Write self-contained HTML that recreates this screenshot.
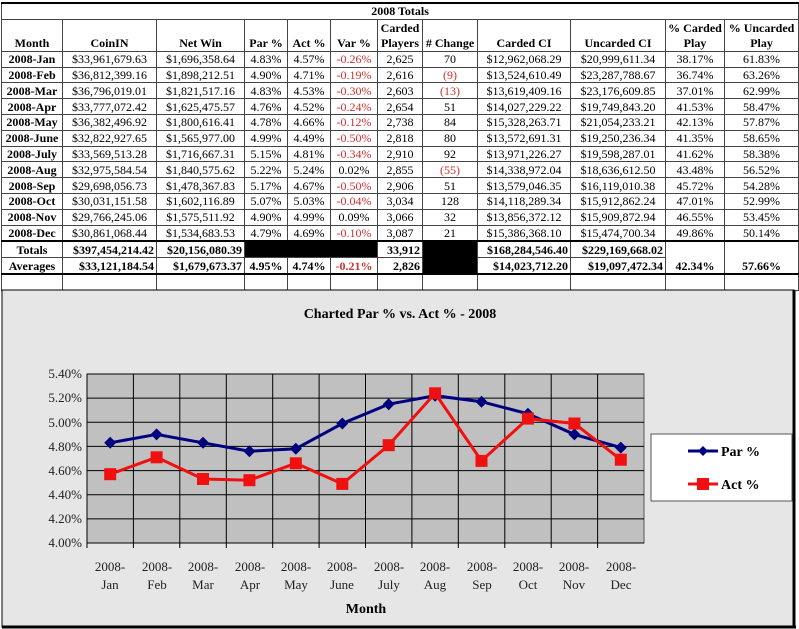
<!DOCTYPE html>
<html><head><meta charset="utf-8"><style>
body{margin:0;width:799px;height:629px;overflow:hidden;background:#fff;font-family:"Liberation Serif",serif;position:relative}
table{position:absolute;left:1px;top:2px;border-collapse:collapse;table-layout:fixed;width:797px;font-size:12px}
td{border:1px solid #444;padding:0 2px;text-align:center;white-space:nowrap;overflow:hidden;height:14.8px;line-height:14px}
.b{font-weight:bold}.r{color:#d03030}.rt{text-align:right}
.blk{background:#000}
.th td{font-weight:bold;vertical-align:bottom;height:31px;line-height:15px}
.tt td{border-top:2px solid #000}
</style></head><body>
<table>
<colgroup><col style="width:61px"><col style="width:94px"><col style="width:88px"><col style="width:43px"><col style="width:43px"><col style="width:47px"><col style="width:45px"><col style="width:55px"><col style="width:93px"><col style="width:95px"><col style="width:59px"><col style="width:74px"></colgroup>
<tr><td colspan="12" class="b" style="border-top:2px solid #000">2008 Totals</td></tr>
<tr class="th"><td>Month</td><td>CoinIN</td><td>Net Win</td><td>Par %</td><td>Act %</td><td>Var %</td><td>Carded<br>Players</td><td># Change</td><td>Carded CI</td><td>Uncarded CI</td><td>% Carded<br>Play</td><td>% Uncarded<br>Play</td></tr>
<tr><td class="b">2008-Jan</td><td>$33,961,679.63</td><td>$1,696,358.64</td><td>4.83%</td><td>4.57%</td><td class="r">-0.26%</td><td>2,625</td><td>70</td><td>$12,962,068.29</td><td>$20,999,611.34</td><td>38.17%</td><td>61.83%</td></tr>
<tr><td class="b">2008-Feb</td><td>$36,812,399.16</td><td>$1,898,212.51</td><td>4.90%</td><td>4.71%</td><td class="r">-0.19%</td><td>2,616</td><td class="r">(9)</td><td>$13,524,610.49</td><td>$23,287,788.67</td><td>36.74%</td><td>63.26%</td></tr>
<tr><td class="b">2008-Mar</td><td>$36,796,019.01</td><td>$1,821,517.16</td><td>4.83%</td><td>4.53%</td><td class="r">-0.30%</td><td>2,603</td><td class="r">(13)</td><td>$13,619,409.16</td><td>$23,176,609.85</td><td>37.01%</td><td>62.99%</td></tr>
<tr><td class="b">2008-Apr</td><td>$33,777,072.42</td><td>$1,625,475.57</td><td>4.76%</td><td>4.52%</td><td class="r">-0.24%</td><td>2,654</td><td>51</td><td>$14,027,229.22</td><td>$19,749,843.20</td><td>41.53%</td><td>58.47%</td></tr>
<tr><td class="b">2008-May</td><td>$36,382,496.92</td><td>$1,800,616.41</td><td>4.78%</td><td>4.66%</td><td class="r">-0.12%</td><td>2,738</td><td>84</td><td>$15,328,263.71</td><td>$21,054,233.21</td><td>42.13%</td><td>57.87%</td></tr>
<tr><td class="b">2008-June</td><td>$32,822,927.65</td><td>$1,565,977.00</td><td>4.99%</td><td>4.49%</td><td class="r">-0.50%</td><td>2,818</td><td>80</td><td>$13,572,691.31</td><td>$19,250,236.34</td><td>41.35%</td><td>58.65%</td></tr>
<tr><td class="b">2008-July</td><td>$33,569,513.28</td><td>$1,716,667.31</td><td>5.15%</td><td>4.81%</td><td class="r">-0.34%</td><td>2,910</td><td>92</td><td>$13,971,226.27</td><td>$19,598,287.01</td><td>41.62%</td><td>58.38%</td></tr>
<tr><td class="b">2008-Aug</td><td>$32,975,584.54</td><td>$1,840,575.62</td><td>5.22%</td><td>5.24%</td><td>0.02%</td><td>2,855</td><td class="r">(55)</td><td>$14,338,972.04</td><td>$18,636,612.50</td><td>43.48%</td><td>56.52%</td></tr>
<tr><td class="b">2008-Sep</td><td>$29,698,056.73</td><td>$1,478,367.83</td><td>5.17%</td><td>4.67%</td><td class="r">-0.50%</td><td>2,906</td><td>51</td><td>$13,579,046.35</td><td>$16,119,010.38</td><td>45.72%</td><td>54.28%</td></tr>
<tr><td class="b">2008-Oct</td><td>$30,031,151.58</td><td>$1,602,116.89</td><td>5.07%</td><td>5.03%</td><td class="r">-0.04%</td><td>3,034</td><td>128</td><td>$14,118,289.34</td><td>$15,912,862.24</td><td>47.01%</td><td>52.99%</td></tr>
<tr><td class="b">2008-Nov</td><td>$29,766,245.06</td><td>$1,575,511.92</td><td>4.90%</td><td>4.99%</td><td>0.09%</td><td>3,066</td><td>32</td><td>$13,856,372.12</td><td>$15,909,872.94</td><td>46.55%</td><td>53.45%</td></tr>
<tr><td class="b">2008-Dec</td><td>$30,861,068.44</td><td>$1,534,683.53</td><td>4.79%</td><td>4.69%</td><td class="r">-0.10%</td><td>3,087</td><td>21</td><td>$15,386,368.10</td><td>$15,474,700.34</td><td>49.86%</td><td>50.14%</td></tr>
<tr class="tt b" style="font-weight:bold"><td style="height:15px">Totals</td><td class="rt">$397,454,214.42</td><td class="rt">$20,156,080.39</td><td class="blk" colspan="3"></td><td class="rt">33,912</td><td class="blk" rowspan="2"></td><td class="rt">$168,284,546.40</td><td class="rt">$229,169,668.02</td><td rowspan="2" style="vertical-align:bottom">42.34%</td><td rowspan="2" style="vertical-align:bottom">57.66%</td></tr>
<tr style="font-weight:bold"><td style="height:15px">Averages</td><td class="rt">$33,121,184.54</td><td class="rt">$1,679,673.37</td><td>4.95%</td><td>4.74%</td><td class="r">-0.21%</td><td class="rt">2,826</td><td class="rt">$14,023,712.20</td><td class="rt">$19,097,472.34</td></tr>
<tr><td style="border-top:2px solid #000"></td><td style="border-top:2px solid #000"></td><td style="border-top:2px solid #000"></td><td style="border-top:2px solid #000"></td><td style="border-top:2px solid #000"></td><td style="border-top:2px solid #000"></td><td style="border-top:2px solid #000"></td><td style="border-top:2px solid #000"></td><td style="border-top:2px solid #000"></td><td style="border-top:2px solid #000"></td><td style="border-top:2px solid #000"></td><td style="border-top:2px solid #000"></td></tr>
</table>
<svg style="position:absolute;left:0;top:0" width="799" height="629" font-family="Liberation Serif, serif">
<rect x="2" y="290" width="792" height="337" fill="#e6e6e6" stroke="#000" stroke-width="1"/>
<line x1="794" y1="290" x2="794" y2="627" stroke="#000" stroke-width="3"/>
<line x1="2" y1="627" x2="796" y2="627" stroke="#000" stroke-width="3"/>
<text x="400" y="318" text-anchor="middle" font-size="14" font-weight="bold">Charted Par % vs. Act % - 2008</text>
<rect x="87" y="374" width="557" height="169" fill="#c0c0c0" stroke="#555"/>
<g stroke="#000" stroke-width="1">
<line x1="87" y1="398.1" x2="644" y2="398.1"/><line x1="87" y1="422.3" x2="644" y2="422.3"/><line x1="87" y1="446.4" x2="644" y2="446.4"/><line x1="87" y1="470.6" x2="644" y2="470.6"/><line x1="87" y1="494.7" x2="644" y2="494.7"/><line x1="87" y1="518.9" x2="644" y2="518.9"/><line x1="87" y1="374" x2="644" y2="374"/>
<line x1="133.4" y1="374" x2="133.4" y2="548"/><line x1="179.8" y1="374" x2="179.8" y2="548"/><line x1="226.3" y1="374" x2="226.3" y2="548"/><line x1="272.7" y1="374" x2="272.7" y2="548"/><line x1="319.1" y1="374" x2="319.1" y2="548"/><line x1="365.5" y1="374" x2="365.5" y2="548"/><line x1="411.9" y1="374" x2="411.9" y2="548"/><line x1="458.3" y1="374" x2="458.3" y2="548"/><line x1="504.8" y1="374" x2="504.8" y2="548"/><line x1="551.2" y1="374" x2="551.2" y2="548"/><line x1="597.6" y1="374" x2="597.6" y2="548"/>
<line x1="87" y1="543" x2="644" y2="543"/><line x1="87" y1="374" x2="87" y2="548"/>
</g>
<g font-size="13" text-anchor="end" fill="#222">
<text x="82" y="378">5.40%</text><text x="82" y="402">5.20%</text><text x="82" y="427">5.00%</text><text x="82" y="451">4.80%</text><text x="82" y="475">4.60%</text><text x="82" y="499">4.40%</text><text x="82" y="523">4.20%</text><text x="82" y="547">4.00%</text>
</g>
<g font-size="13" text-anchor="middle" fill="#222">
<text x="110" y="571">2008-</text><text x="110" y="589">Jan</text>
<text x="157" y="571">2008-</text><text x="157" y="589">Feb</text>
<text x="203" y="571">2008-</text><text x="203" y="589">Mar</text>
<text x="250" y="571">2008-</text><text x="250" y="589">Apr</text>
<text x="296" y="571">2008-</text><text x="296" y="589">May</text>
<text x="342" y="571">2008-</text><text x="342" y="589">June</text>
<text x="389" y="571">2008-</text><text x="389" y="589">July</text>
<text x="435" y="571">2008-</text><text x="435" y="589">Aug</text>
<text x="482" y="571">2008-</text><text x="482" y="589">Sep</text>
<text x="528" y="571">2008-</text><text x="528" y="589">Oct</text>
<text x="574" y="571">2008-</text><text x="574" y="589">Nov</text>
<text x="621" y="571">2008-</text><text x="621" y="589">Dec</text>
</g>
<text x="366" y="613" font-size="14" font-weight="bold" text-anchor="middle">Month</text>
<polyline fill="none" stroke="#00007f" stroke-width="3" points="110.2,442.8 156.6,434.4 203,442.8 249.4,451.2 295.8,448.8 342.3,423.5 388.7,404.2 435.1,395.7 481.5,401.7 527.9,413.8 574.4,434.4 620.8,447.6"/>
<polyline fill="none" stroke="#f01010" stroke-width="3" points="110.2,474.2 156.6,457.3 203,479 249.4,480.2 295.8,463.3 342.3,483.9 388.7,445.2 435.1,393.3 481.5,460.9 527.9,418.6 574.4,423.5 620.8,459.7"/>
<g fill="#00007f">
<path d="M110.2,436.8l6,6-6,6-6-6z"/><path d="M156.6,428.4l6,6-6,6-6-6z"/><path d="M203,436.8l6,6-6,6-6-6z"/><path d="M249.4,445.2l6,6-6,6-6-6z"/><path d="M295.8,442.8l6,6-6,6-6-6z"/><path d="M342.3,417.5l6,6-6,6-6-6z"/><path d="M388.7,398.2l6,6-6,6-6-6z"/><path d="M435.1,389.7l6,6-6,6-6-6z"/><path d="M481.5,395.7l6,6-6,6-6-6z"/><path d="M527.9,407.8l6,6-6,6-6-6z"/><path d="M574.4,428.4l6,6-6,6-6-6z"/><path d="M620.8,441.6l6,6-6,6-6-6z"/>
</g>
<g fill="#f01010">
<rect x="104.2" y="468.2" width="12" height="12"/><rect x="150.6" y="451.3" width="12" height="12"/><rect x="197" y="473" width="12" height="12"/><rect x="243.4" y="474.2" width="12" height="12"/><rect x="289.8" y="457.3" width="12" height="12"/><rect x="336.3" y="477.9" width="12" height="12"/><rect x="382.7" y="439.2" width="12" height="12"/><rect x="429.1" y="387.3" width="12" height="12"/><rect x="475.5" y="454.9" width="12" height="12"/><rect x="521.9" y="412.6" width="12" height="12"/><rect x="568.4" y="417.5" width="12" height="12"/><rect x="614.8" y="453.7" width="12" height="12"/>
</g>
<rect x="651" y="434" width="141" height="67" fill="#fff" stroke="#555"/>
<line x1="688" y1="451" x2="718" y2="451" stroke="#00007f" stroke-width="3"/><path d="M703,446l5,5-5,5-5-5z" fill="#00007f"/>
<line x1="688" y1="484" x2="718" y2="484" stroke="#f01010" stroke-width="3"/><rect x="697" y="478" width="12" height="12" fill="#f01010"/>
<text x="721" y="456" font-size="14" font-weight="bold">Par %</text>
<text x="721" y="489" font-size="14" font-weight="bold">Act %</text>
</svg>
</body></html>
